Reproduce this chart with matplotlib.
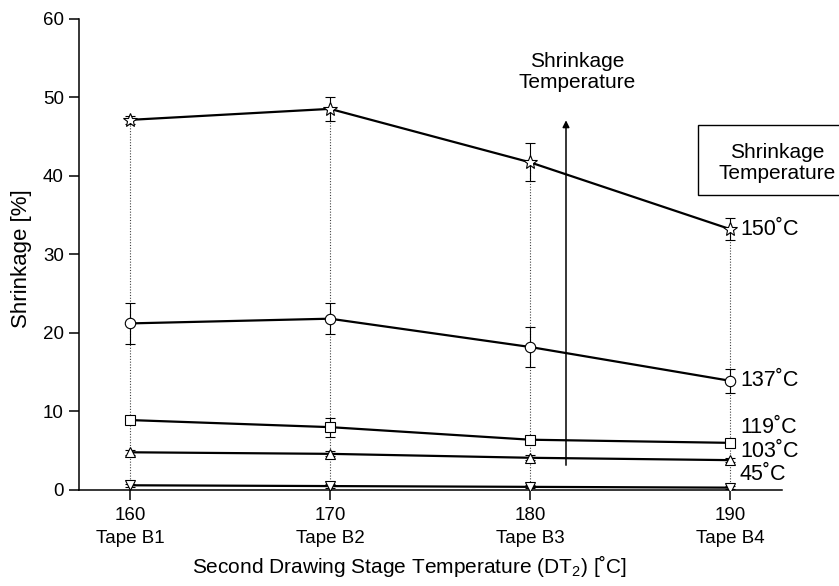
import matplotlib
matplotlib.use("Agg")
import matplotlib.pyplot as plt
from matplotlib.patches import Rectangle

plt.rcParams['font.family'] = ['Liberation Sans', 'DejaVu Sans']
plt.rcParams['mathtext.fontset'] = 'custom'
plt.rcParams['mathtext.rm'] = 'Liberation Sans'
plt.rcParams['mathtext.it'] = 'Liberation Sans:italic'

x_temps = [160, 170, 180, 190]
tape_names = ["Tape B1", "Tape B2", "Tape B3", "Tape B4"]
series_labels = ["150˚C", "137˚C", "119˚C", "103˚C", "45˚C"]
markers = ["*", "o", "s", "^", "v"]
s150 = [47.1, 48.5, 41.7, 33.2]
e150 = [0.5, 1.5, 2.4, 1.4]
s137 = [21.2, 21.8, 18.2, 13.9]
e137 = [2.6, 2.0, 2.6, 1.5]
s119 = [8.9, 8.0, 6.4, 6.0]
e119 = [0.3, 1.2, 0.3, 0.3]
s103 = [4.8, 4.6, 4.1, 3.8]
e103 = [0.3, 0.3, 0.3, 0.3]
s45 = [0.6, 0.5, 0.4, 0.3]
e45 = [0.2, 0.2, 0.2, 0.2]
label_y = [33.2, 13.9, 8.0, 4.95, 2.0]

values = [s150, s137, s119, s103, s45]
errors = [e150, e137, e119, e103, e45]

W, H = 839, 586
fig = plt.figure(figsize=(W / 100, H / 100), dpi=100)
ax = fig.add_axes([79 / W, 1 - 490 / H, 703 / W, 471.5 / H])

# dotted guide lines
for i, xv in enumerate(x_temps):
    ax.plot([xv, xv], [0, s150[i]], linestyle=(0, (1, 1.5)), color='#444444', lw=0.8, zorder=1)

msizes = [10, 7.5, 7, 7.5, 7.5]
for vals, errs, m, ms in zip(values, errors, markers, msizes):
    ax.errorbar(x_temps, vals, yerr=errs, color='black', lw=1.6, marker=m,
                markersize=ms, markerfacecolor='white', markeredgecolor='black',
                markeredgewidth=0.8, ecolor='black', elinewidth=0.8, capsize=3.5,
                capthick=0.8, zorder=3)

# series labels at the right
for lab, ly in zip(series_labels, label_y):
    ax.text(190.5, ly, lab, fontsize=15.5, va='center', ha='left')

# arrow
ax.annotate("", xy=(181.8, 47.4), xytext=(181.8, 2.8),
            arrowprops=dict(arrowstyle='-|>', color='black', lw=1.1, mutation_scale=10))
ax.text(182.35, 53.2, "Shrinkage\nTemperature", fontsize=15, ha='center', va='center',
        linespacing=1.15)

# boxed label (extends past the right edge)
fig.patches.append(Rectangle((698 / W, 1 - 195 / H), 150 / W, 70 / H, transform=fig.transFigure,
                             facecolor='white', edgecolor='black', lw=1.0))
fig.text(777 / W, 1 - 163 / H, "Shrinkage\nTemperature", fontsize=15, ha='center', va='center',
         linespacing=1.15)

ax.set_xlim(157.45, 192.6)
ax.set_ylim(0, 60)
ax.set_xticks(x_temps)
ax.set_xticklabels([f"{t}\n{n}" for t, n in zip(x_temps, tape_names)], fontsize=13.5, linespacing=1.45)
for lbl in ax.get_xticklabels():
    lbl.set_multialignment('center')
ax.set_yticks([0, 10, 20, 30, 40, 50, 60])
ax.tick_params(axis='both', direction='out', length=7, width=1.1, labelsize=13.5, pad=4)
ax.tick_params(axis='x', pad=5)
ax.spines['top'].set_visible(False)
ax.spines['right'].set_visible(False)
ax.spines['left'].set_linewidth(1.1)
ax.spines['bottom'].set_linewidth(1.1)
ax.set_ylabel("Shrinkage [%]", fontsize=16)
ax.yaxis.set_label_coords(-(79 - 22) / 703, 0.49)
ax.yaxis.label.set_va('center')
ax.set_xlabel("Second Drawing Stage Temperature (DT$_{2}$) [˚C]", fontsize=15)
ax.xaxis.set_label_coords((410 - 79) / 703, -(566 - 490) / 471.5)
ax.xaxis.label.set_va('center')

fig.savefig("out.png", dpi=100)
